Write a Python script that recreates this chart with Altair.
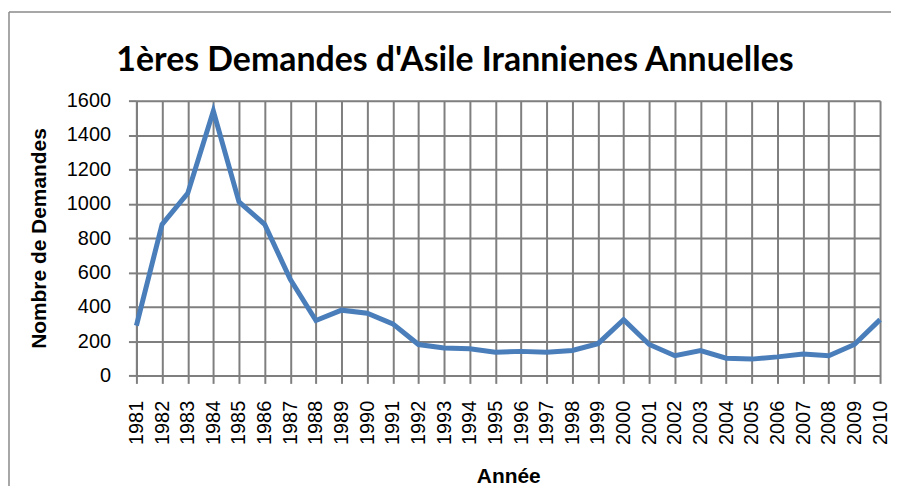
import altair as alt
import pandas as pd

years = list(range(1981, 2011))
demandes = [290, 880, 1060, 1540, 1010, 880, 560, 320, 380, 362, 300, 180,
            160, 155, 135, 140, 135, 145, 185, 325, 180, 115, 145, 100, 95,
            108, 125, 115, 180, 325]
y_ticks = [0, 200, 400, 600, 800, 1000, 1200, 1400, 1600]

title_text = "1ères Demandes d'Asile Irannienes Annuelles"
x_title = "Année"
y_title = "Nombre de Demandes"

df = pd.DataFrame({"Année": years, "Demandes": demandes})

FONT = "Lato"
GRID = "#7f7f7f"

W, H = 747, 276

line = alt.Chart(df).mark_line(color="#4A7EBB", strokeWidth=5).encode(
    x=alt.X(
        "Année:Q",
        scale=alt.Scale(domain=[1981, 2010], nice=False, zero=False),
        axis=alt.Axis(
            values=years, format="d", labelAngle=270, labelFontSize=20,
            labelPadding=17, tickSize=8, title=x_title, titleFontSize=21,
            titleFontWeight="bold", titleX=373.5, titleY=108,
            titleBaseline="alphabetic", titleAlign="center",
            labelFlush=False, labelOverlap=False,
            grid=True, gridColor=GRID, gridWidth=2, gridOpacity=1,
            domainColor=GRID, domainWidth=2, tickColor=GRID, tickWidth=2,
        ),
    ),
    y=alt.Y(
        "Demandes:Q",
        scale=alt.Scale(domain=[0, 1600], nice=False),
        axis=alt.Axis(
            values=y_ticks, format="d", labelFontSize=20, labelPadding=18,
            tickSize=8, title=y_title, titleFontSize=21, titleFontWeight="bold",
            titleX=-97, titleY=138, titleAngle=270, titleBaseline="middle",
            titleAlign="center",
            grid=True, gridColor=GRID, gridWidth=2, gridOpacity=1,
            domainColor=GRID, domainWidth=2, tickColor=GRID, tickWidth=2,
        ),
    ),
)

one = pd.DataFrame({"t": [title_text]})

top_rule = alt.Chart(one).mark_rule(color="#8a8a8a", strokeWidth=1.5).encode(
    x=alt.value(-128), x2=alt.value(758), y=alt.value(-89)
)
left_rule = alt.Chart(one).mark_rule(color="#8a8a8a", strokeWidth=1.5).encode(
    x=alt.value(-128), y=alt.value(-89), y2=alt.value(387)
)

title_mark = alt.Chart(one).mark_text(
    font=FONT, fontSize=34, fontWeight="bold", color="black",
    align="center", baseline="alphabetic",
).encode(
    text="t:N", x=alt.value(320), y=alt.value(-30)
)

chart = alt.layer(top_rule, left_rule, title_mark, line).properties(
    width=W, height=H,
    padding={"left": 129, "top": 92, "right": 11, "bottom": 111},
    autosize=alt.AutoSizeParams(type="none"),
).configure_view(
    stroke=None
).configure_axis(
    labelFont=FONT, titleFont=FONT, labelColor="black", titleColor="black",
).configure(background="white")

chart.save("out.html", embed_options={"renderer": "svg", "actions": False})
